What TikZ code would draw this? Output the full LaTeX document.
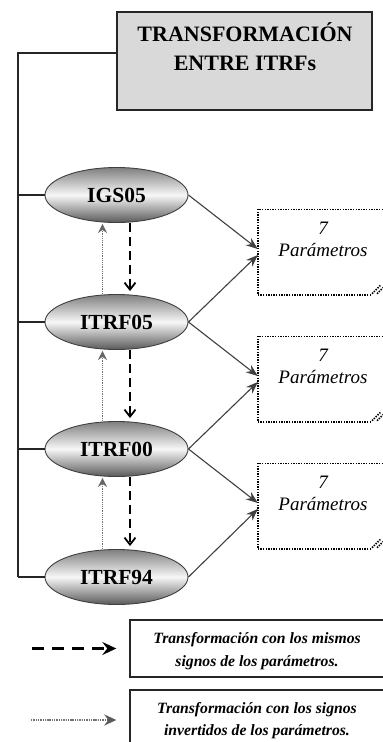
\documentclass[tikz,border=0pt]{standalone}
\usepackage{fontspec}
\setmainfont{Liberation Serif}
\usetikzlibrary{shapes.geometric,arrows.meta,calc}
\begin{document}
\begin{tikzpicture}[x=1pt,y=-1pt,
  titlebox/.style={draw=black!85, line width=2pt, fill=black!15, minimum width=255pt, minimum height=98pt, inner sep=0pt},
  titletext/.style={anchor=base, inner sep=0pt, font=\fontsize{22}{26}\selectfont\bfseries},
  ellnode/.style={ellipse, draw=black!75, line width=0.9pt, minimum width=143pt, minimum height=55pt, inner sep=0pt,
    top color=black!50, bottom color=black!65, middle color=black!3, font=\fontsize{21.5}{24}\selectfont\bfseries},
  parbox/.style={minimum width=130pt, minimum height=85pt, inner sep=0pt},
  parline/.style={line width=1.6pt, dash pattern=on 1.4pt off 1.2pt},
  partext/.style={anchor=base, inner sep=0pt, font=\fontsize{19}{23}\selectfont\itshape},
  spine/.style={line width=1.3pt, black!85},
  solidarr/.style={draw=black!75, line width=1.1pt, -{Stealth[length=12pt,width=9pt,inset=4pt]}},
  samearr/.style={line width=2pt, dash pattern=on 9pt off 5pt, -{Straight Barb[length=7pt,width=11pt,line width=1.8pt]}},
  invarr/.style={draw=black!55, line width=1.7pt, dash pattern=on 1.3pt off 0.9pt, -{Stealth[length=9pt,width=9pt,inset=3pt,color=black!60,fill=black!60]}},
  legbox/.style={draw=black!85, line width=1.4pt, minimum width=256pt, inner sep=0pt},
  legtext/.style={anchor=base, inner sep=0pt, font=\fontsize{15.7}{19}\selectfont\bfseries\itshape},
  legsame/.style={line width=2.8pt, dash pattern=on 12pt off 8pt, -{Stealth[length=14pt,width=13pt,inset=5pt]}},
  leginv/.style={draw=black!55, line width=1.8pt, dash pattern=on 1.4pt off 0.9pt, -{Stealth[length=12pt,width=11pt,inset=4pt,color=black!65,fill=black!65]}}
]
\clip (0,0) rectangle (383,742);
\fill[white] (0,0) rectangle (383,742);

% title
\node[titlebox] (title) at (244.5,61) {};
\node[titletext] (t1) at (245,41) {TRANSFORMACIÓN};
\node[titletext] (t2) at (245,70) {ENTRE ITRFs};

% ellipses
\node[ellnode] (igs) at (116.5,195) {IGS05};
\node[ellnode] (i05) at (116.5,322) {ITRF05};
\node[ellnode] (i00) at (116.5,449) {ITRF00};
\node[ellnode] (i94) at (116.5,577) {ITRF94};

% spine
\coordinate (spTop) at (18,53);
\draw[spine] (i94.west -| spTop) -- (spTop) -- (spTop -| title.west);
\foreach \e in {igs,i05,i00,i94}{
  \draw[spine] (\e.west) -- (\e.west -| spTop);
}

% parameter boxes
\foreach \p/\y in {p1/252,p2/379,p3/506}{
  \node[parbox] (\p) at (323,\y) {};
  \draw[parline] ([xshift=48pt]\p.south) -| (\p.north west) -- (\p.north east);
  \draw[parline] ([shift={(49,-1)}]\p.south) -- ([shift={(58,-10)}]\p.south);
  \draw[parline] ([shift={(54,-1)}]\p.south) -- ([shift={(60,-7)}]\p.south);
  \node[partext] (\p n) at ([yshift=-25pt]\p.north) {7};
  \node[partext] (\p t) at ([yshift=-47pt]\p.north) {Parámetros};
}

% solid arrows
\draw[solidarr] (igs.east) -- ([yshift=3pt]p1.west);
\draw[solidarr] (i05.east) -- ([yshift=-3pt]p1.west);
\draw[solidarr] (i05.east) -- ([yshift=3pt]p2.west);
\draw[solidarr] (i00.east) -- ([yshift=-3pt]p2.west);
\draw[solidarr] (i00.east) -- ([yshift=3pt]p3.west);
\draw[solidarr] (i94.east) -- ([yshift=-3pt]p3.west);

% vertical arrows
\foreach \a/\b in {igs/i05,i05/i00,i00/i94}{
  \draw[samearr] ([xshift=13.5pt]\a.south) -- ([xshift=13.5pt,yshift=3pt]\b.north);
  \draw[invarr] ([xshift=-14pt]\b.north) -- ([xshift=-14pt,yshift=-1pt]\a.south);
}

% legend
\node[legbox, minimum height=57pt] (leg1) at (258,648.5) {};
\node[legtext] (l1a) at (257,643) {Transformación con los mismos};
\node[legtext] (l1b) at (257,666) {signos de los parámetros.};
\node[legbox, minimum height=60pt] (leg2) at (258,720) {};
\node[legtext] (l2a) at (257,713) {Transformación con los signos};
\node[legtext] (l2b) at (257,735) {invertidos de los parámetros.};

\coordinate (ls1) at (32,648.5);
\coordinate (ls2) at (31,720);
\draw[legsame] (ls1) -- ([xshift=-13pt]leg1.west);
\draw[leginv] (ls2) -- ([xshift=-13pt]leg2.west);
\end{tikzpicture}
\end{document}
